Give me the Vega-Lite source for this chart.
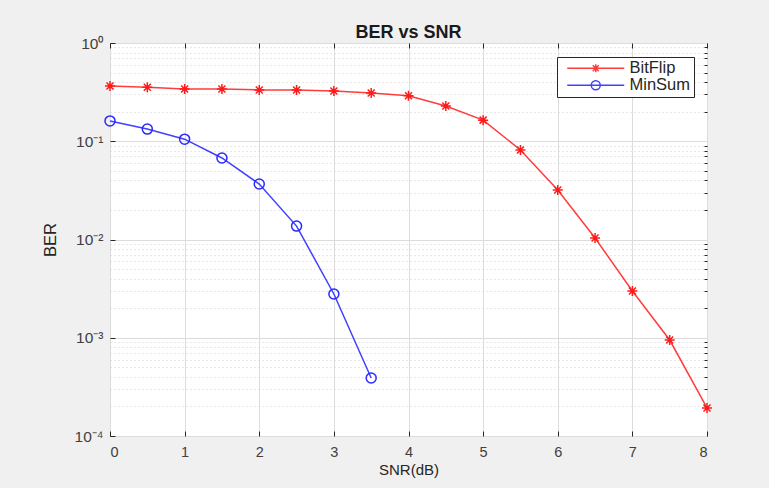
{
  "$schema": "https://vega.github.io/schema/vega-lite/v6.json",
  "width": 597,
  "height": 393,
  "autosize": "none",
  "padding": {"left": 110, "top": 43, "right": 62, "bottom": 52},
  "background": "#f0f0f0",
  "title": {"text": "BER vs SNR", "font": "Liberation Sans", "fontSize": 18, "fontWeight": "bold", "color": "#1a1a1a", "offset": -6},
  "config": {
    "view": {"stroke": "#262626", "strokeWidth": 1, "fill": "#ffffff"},
    "axis": {"labelFont": "Liberation Sans", "titleFont": "Liberation Sans", "labelColor": "#404040", "titleColor": "#262626", "labelFontSize": 14.5, "titleFontSize": 15, "titleFontWeight": "normal", "domainColor": "#262626", "tickColor": "#262626"}
  },
  "data": {"values": [
    {"snr": 0, "ber": 0.365, "series": "BitFlip"},
    {"snr": 0.5, "ber": 0.355, "series": "BitFlip"},
    {"snr": 1, "ber": 0.34, "series": "BitFlip"},
    {"snr": 1.5, "ber": 0.34, "series": "BitFlip"},
    {"snr": 2, "ber": 0.333, "series": "BitFlip"},
    {"snr": 2.5, "ber": 0.333, "series": "BitFlip"},
    {"snr": 3, "ber": 0.325, "series": "BitFlip"},
    {"snr": 3.5, "ber": 0.31, "series": "BitFlip"},
    {"snr": 4, "ber": 0.29, "series": "BitFlip"},
    {"snr": 4.5, "ber": 0.228, "series": "BitFlip"},
    {"snr": 5, "ber": 0.164, "series": "BitFlip"},
    {"snr": 5.5, "ber": 0.0815, "series": "BitFlip"},
    {"snr": 6, "ber": 0.0319, "series": "BitFlip"},
    {"snr": 6.5, "ber": 0.01035, "series": "BitFlip"},
    {"snr": 7, "ber": 0.00299, "series": "BitFlip"},
    {"snr": 7.5, "ber": 0.000948, "series": "BitFlip"},
    {"snr": 8, "ber": 0.000193, "series": "BitFlip"},
    {"snr": 0, "ber": 0.161, "series": "MinSum"},
    {"snr": 0.5, "ber": 0.133, "series": "MinSum"},
    {"snr": 1, "ber": 0.105, "series": "MinSum"},
    {"snr": 1.5, "ber": 0.0676, "series": "MinSum"},
    {"snr": 2, "ber": 0.0367, "series": "MinSum"},
    {"snr": 2.5, "ber": 0.0137, "series": "MinSum"},
    {"snr": 3, "ber": 0.00279, "series": "MinSum"},
    {"snr": 3.5, "ber": 0.000389, "series": "MinSum"}
  ]},
  "resolve": {"axis": {"x": "independent", "y": "independent"}},
  "layer": [
    {
      "mark": {"type": "line", "strokeWidth": 1.5},
      "encoding": {
        "x": {"field": "snr", "type": "quantitative", "scale": {"domain": [0, 8], "nice": false},
          "axis": {"title": "SNR(dB)", "values": [0,1,2,3,4,5,6,7,8], "grid": true, "gridColor": "#dcdcdc", "tickSize": -5, "labelPadding": 14, "titlePadding": 4, "domain": false}},
        "y": {"field": "ber", "type": "quantitative", "scale": {"type": "log", "domain": [0.0001, 1], "nice": false},
          "axis": {"title": "BER", "titleFontSize": 16.5, "labelFontSize": 15.5, "values": [0.0001, 0.001, 0.01, 0.1, 1], "grid": true, "gridColor": "#dcdcdc", "tickSize": -5, "labelPadding": 12, "titlePadding": 16, "domain": false,
            "labelExpr": "datum.value >= 0.5 ? '10⁰' : datum.value >= 0.05 ? '10⁻¹' : datum.value >= 0.005 ? '10⁻²' : datum.value >= 0.0005 ? '10⁻³' : '10⁻⁴'"}},
        "color": {"field": "series", "type": "nominal", "scale": {"domain": ["BitFlip", "MinSum"], "range": ["#ff3c3c", "#4040ff"]},
          "legend": {"title": null, "orient": "top-right", "offset": 13.5, "strokeColor": "#262626", "fillColor": "#ffffff", "padding": 3, "cornerRadius": 0,
            "labelFont": "Liberation Sans", "labelFontSize": 16.5, "labelColor": "#262626", "symbolSize": 100, "symbolStrokeWidth": 1.5, "labelOffset": 53, "rowPadding": -1,
            "encode": {"symbols": {"update": {"shape": {"signal": "datum.value === 'BitFlip' ? 'M-0.2,0H11.2M4.7,0H6.3M5.5,-0.8V0.8M4.9,-0.6L6.1,0.6M4.9,0.6L6.1,-0.6' : 'M-0.2,0H11.2M6.4,0A0.9,0.9 0 1,1 4.6,0A0.9,0.9 0 1,1 6.4,0'"}, "fill": {"value": "transparent"}}}}}}
      }
    },
    {
      "transform": [{"filter": "datum.series === 'BitFlip'"}],
      "mark": {"type": "point", "filled": false, "size": 100, "strokeWidth": 1.5, "opacity": 1, "color": "#ff1a1a", "shape": "M-1,0L1,0M0,-1L0,1M-0.7,-0.7L0.7,0.7M-0.7,0.7L0.7,-0.7"},
      "encoding": {
        "x": {"field": "snr", "type": "quantitative", "axis": {"orient": "top", "title": null, "labels": false, "values": [0,1,2,3,4,5,6,7,8], "grid": false, "tickSize": -5, "domain": false}},
        "y": {"field": "ber", "type": "quantitative",
          "axis": {"orient": "right", "title": null, "labels": false, "grid": true, "gridColor": "#d0d0d0", "gridDash": [1, 3], "tickSize": -3, "domain": false,
            "values": [0.0002,0.0003,0.0004,0.0005,0.0006,0.0007,0.0008,0.0009,0.002,0.003,0.004,0.005,0.006,0.007,0.008,0.009,0.02,0.03,0.04,0.05,0.06,0.07,0.08,0.09,0.2,0.3,0.4,0.5,0.6,0.7,0.8,0.9]}}
      }
    },
    {
      "transform": [{"filter": "datum.series === 'MinSum'"}],
      "mark": {"type": "point", "filled": false, "size": 100, "strokeWidth": 1.5, "opacity": 1, "color": "#2a2aff", "shape": "circle"},
      "encoding": {
        "x": {"field": "snr", "type": "quantitative", "axis": null},
        "y": {"field": "ber", "type": "quantitative", "axis": null}
      }
    }
  ]
}
